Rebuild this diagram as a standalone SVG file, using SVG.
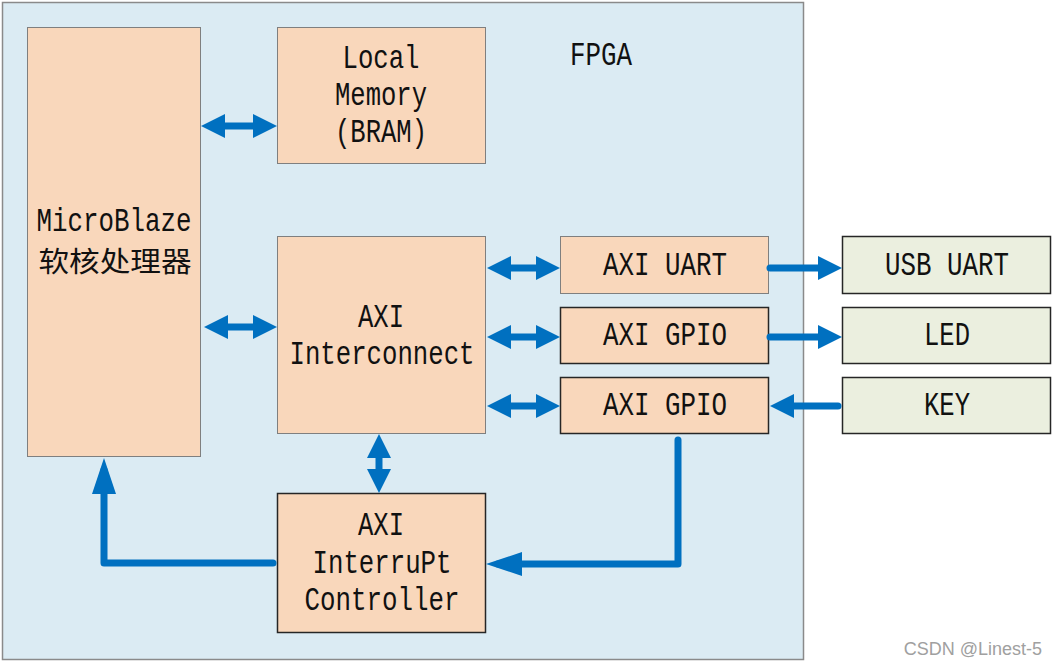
<svg xmlns="http://www.w3.org/2000/svg" width="1058" height="665" viewBox="0 0 1058 665">
<style>
.blk{fill:#f9d7bb;stroke:#7f7f7f;stroke-width:1}
.blkd{fill:#f9d7bb;stroke:#262626;stroke-width:1.5}
.ext{fill:#ebefdf;stroke:#262626;stroke-width:1.5}
.t{font-family:"Liberation Mono",monospace;font-size:34px;fill:#111;text-anchor:middle}
.cjk{font-family:"Noto Sans CJK SC",sans-serif;font-size:28px;fill:#111;text-anchor:middle}
.c{fill:none;stroke:#0070c0;stroke-width:7}
.r{stroke-linecap:round;stroke-linejoin:round}
</style>
<defs>
<marker id="ah" markerUnits="userSpaceOnUse" viewBox="0 0 24 24" markerWidth="24" markerHeight="24" refX="12" refY="12" orient="auto-start-reverse"><path d="M0,0 L24,12 L0,24 z" fill="#0070c0"/></marker>
<marker id="al" markerUnits="userSpaceOnUse" viewBox="0 0 36 24" markerWidth="36" markerHeight="24" refX="24" refY="12" orient="auto"><path d="M0,0 L36,12 L0,24 z" fill="#0070c0"/></marker>
</defs>
<g id="fpga">
<rect x="2.5" y="2.5" width="801" height="657" fill="#dbebf3" stroke="#8a8a8a" stroke-width="1.5"/>
<text class="t" x="601" y="65" textLength="62" lengthAdjust="spacingAndGlyphs">FPGA</text>
</g>
<g id="microblaze">
<rect class="blk" x="27.5" y="27.5" width="173" height="429"/>
<text class="t" x="114" y="231" textLength="155" lengthAdjust="spacingAndGlyphs">MicroBlaze</text>
<text class="cjk" x="115" y="272" textLength="153" lengthAdjust="spacingAndGlyphs">软核处理器</text>
</g>
<g id="local-memory">
<rect class="blk" x="277.5" y="27.5" width="208" height="136"/>
<text class="t" x="381" y="68" textLength="77" lengthAdjust="spacingAndGlyphs">Local</text>
<text class="t" x="381" y="105" textLength="92" lengthAdjust="spacingAndGlyphs">Memory</text>
<text class="t" x="381" y="142" textLength="92" lengthAdjust="spacingAndGlyphs">(BRAM)</text>
</g>
<g id="axi-interconnect">
<rect class="blk" x="277.5" y="236.5" width="208" height="197"/>
<text class="t" x="381" y="327" textLength="46" lengthAdjust="spacingAndGlyphs">AXI</text>
<text class="t" x="382" y="364" textLength="185" lengthAdjust="spacingAndGlyphs">Interconnect</text>
</g>
<g id="axi-uart">
<rect class="blk" x="560.5" y="236.5" width="208" height="57"/>
<text class="t" x="665" y="275" textLength="124" lengthAdjust="spacingAndGlyphs">AXI UART</text>
</g>
<g id="axi-gpio-1">
<rect class="blkd" x="560.5" y="307.5" width="208" height="56"/>
<text class="t" x="665" y="345" textLength="124" lengthAdjust="spacingAndGlyphs">AXI GPIO</text>
</g>
<g id="axi-gpio-2">
<rect class="blkd" x="560.5" y="377.5" width="208" height="56"/>
<text class="t" x="665" y="415" textLength="124" lengthAdjust="spacingAndGlyphs">AXI GPIO</text>
</g>
<g id="usb-uart">
<rect class="ext" x="842.5" y="236.5" width="208" height="57"/>
<text class="t" x="947" y="275" textLength="124" lengthAdjust="spacingAndGlyphs">USB UART</text>
</g>
<g id="led">
<rect class="ext" x="842.5" y="307.5" width="208" height="56"/>
<text class="t" x="947" y="345" textLength="46" lengthAdjust="spacingAndGlyphs">LED</text>
</g>
<g id="key">
<rect class="ext" x="842.5" y="377.5" width="208" height="56"/>
<text class="t" x="947" y="415" textLength="46" lengthAdjust="spacingAndGlyphs">KEY</text>
</g>
<g id="axi-interrupt-controller">
<rect class="blkd" x="277.5" y="493.5" width="208" height="139"/>
<text class="t" x="381" y="535" textLength="46" lengthAdjust="spacingAndGlyphs">AXI</text>
<text class="t" x="382" y="573" textLength="139" lengthAdjust="spacingAndGlyphs">InterruPt</text>
<text class="t" x="382" y="610" textLength="155" lengthAdjust="spacingAndGlyphs">Controller</text>
</g>
<g id="connectors">
<path class="c" d="M213,126 H265" marker-start="url(#ah)" marker-end="url(#ah)"/>
<path class="c" d="M216,327 H265" marker-start="url(#ah)" marker-end="url(#ah)"/>
<path class="c" d="M499,268 H548" marker-start="url(#ah)" marker-end="url(#ah)"/>
<path class="c" d="M499,337 H548" marker-start="url(#ah)" marker-end="url(#ah)"/>
<path class="c" d="M499,406 H548" marker-start="url(#ah)" marker-end="url(#ah)"/>
<path class="c" d="M379,446 V481" marker-start="url(#ah)" marker-end="url(#ah)"/>
<path class="c r" d="M770,268 H830" marker-end="url(#ah)"/>
<path class="c r" d="M770,337 H830" marker-end="url(#ah)"/>
<path class="c r" d="M838,406 H782" marker-end="url(#ah)"/>
<path class="c r" d="M678,440 V564 H498" marker-end="url(#al)"/>
<path class="c r" d="M273,563 H104 V470" marker-end="url(#al)"/>
</g>
<text x="1042" y="655" font-family="Liberation Sans,Arial,sans-serif" font-size="18" fill="#a0a0a0" text-anchor="end">CSDN @Linest-5</text>
</svg>
